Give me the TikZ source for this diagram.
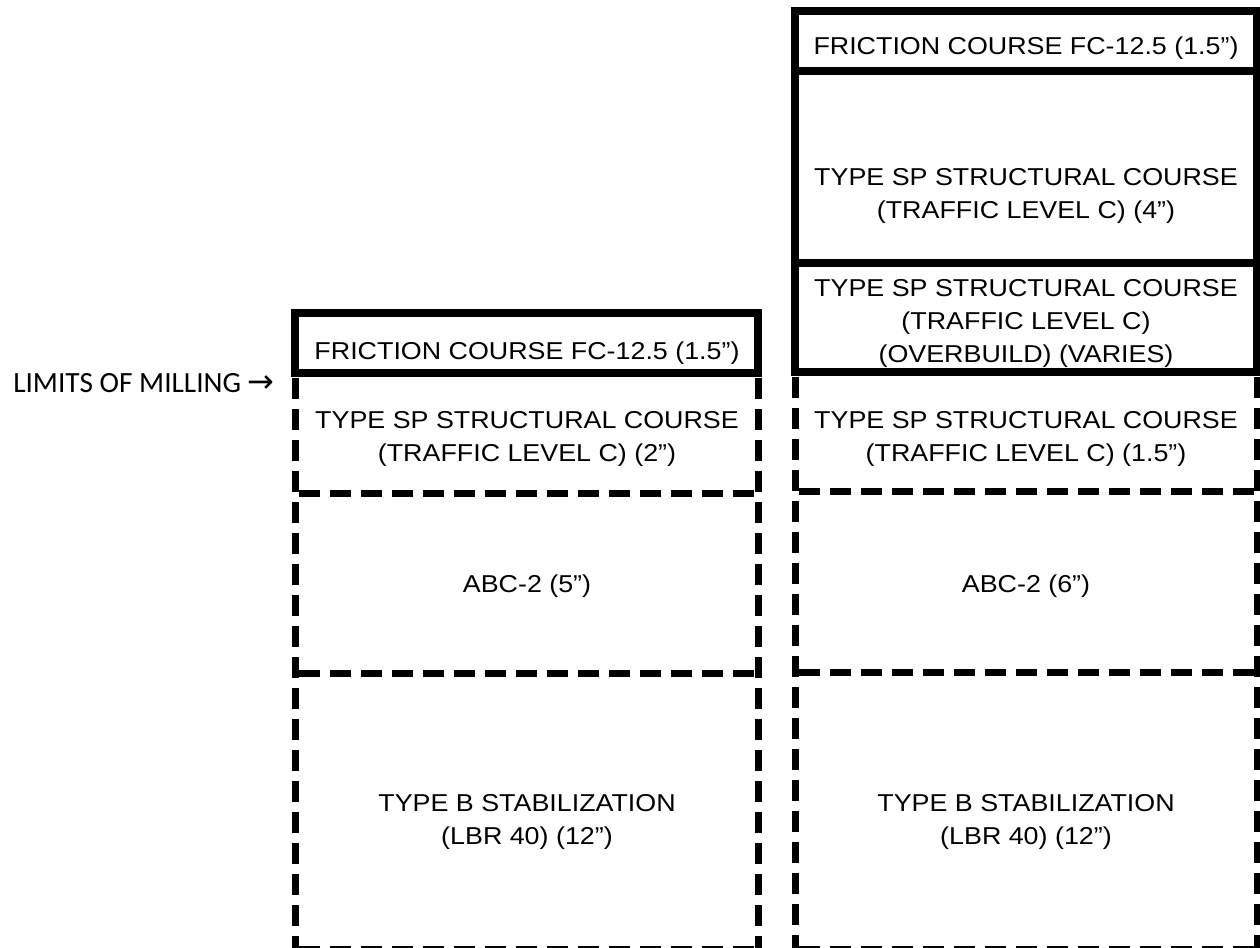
\documentclass[tikz,border=0pt]{standalone}
\usepackage{fontspec}
\setmainfont{Liberation Sans}[FakeStretch=1.1]
\newfontfamily\calibfont{Carlito}
\newfontfamily\symfont{DejaVu Sans}
\begin{document}
\begin{tikzpicture}[x=0.75pt,y=-0.75pt,
  solidline/.style={line width=6pt},
  dashline/.style={line width=5.25pt, dash pattern=on 15.75pt off 7.5pt},
  lbl/.style={font=\fontsize{18.3}{24.75}\selectfont, align=center, inner sep=0pt},
  side/.style={font=\calibfont\fontsize{22}{26}\selectfont, inner sep=0pt, anchor=west}]
\useasboundingbox (0,0) rectangle (1260,947);
% left column, dashed layers
\draw[dashline] (295,378) -- (295,949);
\draw[dashline] (758,378) -- (758,949);
\draw[dashline] (299,493) -- (758,493);
\draw[dashline] (299,673) -- (758,673);
\draw[dashline] (299,949) -- (758,949);
% left column, solid friction course
\draw[solidline] (295,313) rectangle (758,373);
% right column, dashed layers
\draw[dashline] (795,377) -- (795,949);
\draw[dashline] (1257,377) -- (1257,949);
\draw[dashline] (799,491) -- (1257,491);
\draw[dashline] (799,672) -- (1257,672);
\draw[dashline] (799,949) -- (1257,949);
% right column, solid layers
\draw[solidline] (795,11) rectangle (1257,372);
\draw[solidline] (795,71) -- (1257,71);
\draw[solidline] (795,263) -- (1257,263);
% labels
\node[side] (mill) at (13,383) {LIMITS OF MILLING {\symfont\fontsize{24}{26}\selectfont →}};
\node[lbl] (lfc) at (527,353) {FRICTION COURSE FC-12.5 (1.5”)};
\node[lbl] (lsp) at (527,439) {TYPE SP STRUCTURAL COURSE\\(TRAFFIC LEVEL C) (2”)};
\node[lbl] (labc) at (527,586) {ABC-2 (5”)};
\node[lbl] (lstab) at (527,822) {TYPE B STABILIZATION\\(LBR 40) (12”)};
\node[lbl] (rfc) at (1026,48) {FRICTION COURSE FC-12.5 (1.5”)};
\node[lbl] (rsp4) at (1026,196) {TYPE SP STRUCTURAL COURSE\\(TRAFFIC LEVEL C) (4”)};
\node[lbl] (rover) at (1026,323) {TYPE SP STRUCTURAL COURSE\\(TRAFFIC LEVEL C)\\(OVERBUILD) (VARIES)};
\node[lbl] (rsp) at (1026,439) {TYPE SP STRUCTURAL COURSE\\(TRAFFIC LEVEL C) (1.5”)};
\node[lbl] (rabc) at (1026,586) {ABC-2 (6”)};
\node[lbl] (rstab) at (1026,822) {TYPE B STABILIZATION\\(LBR 40) (12”)};
\end{tikzpicture}
\end{document}
